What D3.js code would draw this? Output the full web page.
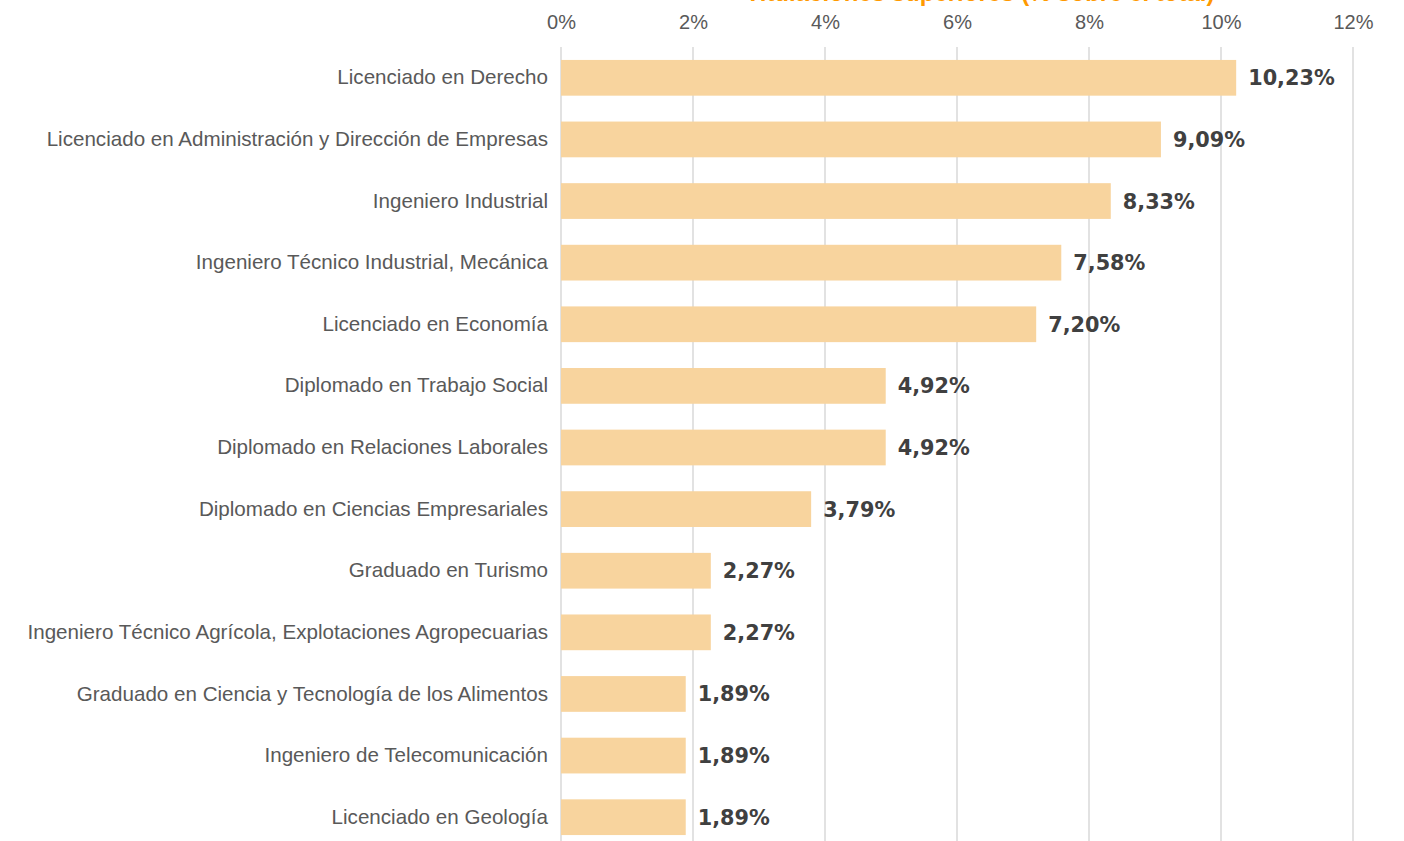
<!DOCTYPE html>
<html>
<head>
<meta charset="utf-8">
<script src="https://cdn.jsdelivr.net/npm/d3@7"></script>
<style>
  body { margin: 0; background: white; }
  svg { display: block; font-family: "Liberation Sans", Arial, sans-serif; }
</style>
</head>
<body>
<svg></svg>
<script>
// Titulaciones y porcentajes
const categories = [
  'Licenciado en Derecho',
  'Licenciado en Administración y Dirección de Empresas',
  'Ingeniero Industrial',
  'Ingeniero Técnico Industrial, Mecánica',
  'Licenciado en Economía',
  'Diplomado en Trabajo Social',
  'Diplomado en Relaciones Laborales',
  'Diplomado en Ciencias Empresariales',
  'Graduado en Turismo',
  'Ingeniero Técnico Agrícola, Explotaciones Agropecuarias',
  'Graduado en Ciencia y Tecnología de los Alimentos',
  'Ingeniero de Telecomunicación',
  'Licenciado en Geología'
];
const values = [10.23, 9.09, 8.33, 7.58, 7.20, 4.92, 4.92, 3.79, 2.27, 2.27, 1.89, 1.89, 1.89];
const xTicks = [0, 2, 4, 6, 8, 10, 12];
const title = 'Titulaciones superiores (% sobre el total)';

const width = 1404;
const height = 841;
const margin = { top: 47, right: 51, bottom: -7, left: 561 };

const svg = d3.select('svg').attr('width', width).attr('height', height);

const x = d3.scaleLinear().domain([0, 12]).range([margin.left, width - margin.right]);
const y = d3.scaleBand().domain(categories).range([margin.top, height - margin.bottom]).paddingInner(0.42).paddingOuter(0.21);

// Titulo (cortado arriba en el original)
svg.append('text')
  .attr('x', 980)
  .attr('y', 1)
  .attr('text-anchor', 'middle')
  .attr('fill', '#FF9900')
  .attr('font-size', '24px')
  .attr('font-weight', 'bold')
  .text(title);

// Lineas de cuadricula verticales
svg.append('g')
  .selectAll('line')
  .data(xTicks)
  .join('line')
  .attr('x1', (d) => x(d))
  .attr('x2', (d) => x(d))
  .attr('y1', margin.top)
  .attr('y2', height)
  .attr('stroke', '#d9d9d9')
  .attr('stroke-width', 1.5);

// Eje superior
const xAxis = d3.axisTop(x).tickValues(xTicks).tickFormat((d) => `${d}%`).tickSize(0).tickPadding(0);
const xAxisGroup = svg.append('g').attr('transform', 'translate(0,29)').call(xAxis);
xAxisGroup.select('.domain').remove();
xAxisGroup.selectAll('.tick text')
  .attr('fill', '#595959')
  .attr('font-size', '20px')
  .attr('font-family', '"Liberation Sans", Arial, sans-serif');

// Etiquetas de categorias
const yAxis = d3.axisLeft(y).tickSize(0).tickPadding(13);
const yAxisGroup = svg.append('g').attr('transform', `translate(${margin.left},0)`).call(yAxis);
yAxisGroup.select('.domain').remove();
yAxisGroup.selectAll('.tick text')
  .attr('fill', '#595959')
  .attr('font-size', '20.6px')
  .attr('font-family', '"Liberation Sans", Arial, sans-serif');

// Barras
svg.append('g')
  .selectAll('rect')
  .data(values)
  .join('rect')
  .attr('x', x(0))
  .attr('y', (d, i) => y(categories[i]))
  .attr('width', (d) => x(d) - x(0))
  .attr('height', y.bandwidth())
  .attr('fill', '#F8D49E');

// Etiquetas de valores
svg.append('g')
  .selectAll('text')
  .data(values)
  .join('text')
  .attr('x', (d) => x(d) + 12)
  .attr('y', (d, i) => y(categories[i]) + y.bandwidth() / 2)
  .attr('dy', '0.36em')
  .attr('fill', '#404040')
  .attr('font-size', '20.8px')
  .attr('font-weight', 'bold')
  .attr('font-family', '"DejaVu Sans", sans-serif')
  .text((d) => d.toFixed(2).replace('.', ',') + '%');
</script>
</body>
</html>
